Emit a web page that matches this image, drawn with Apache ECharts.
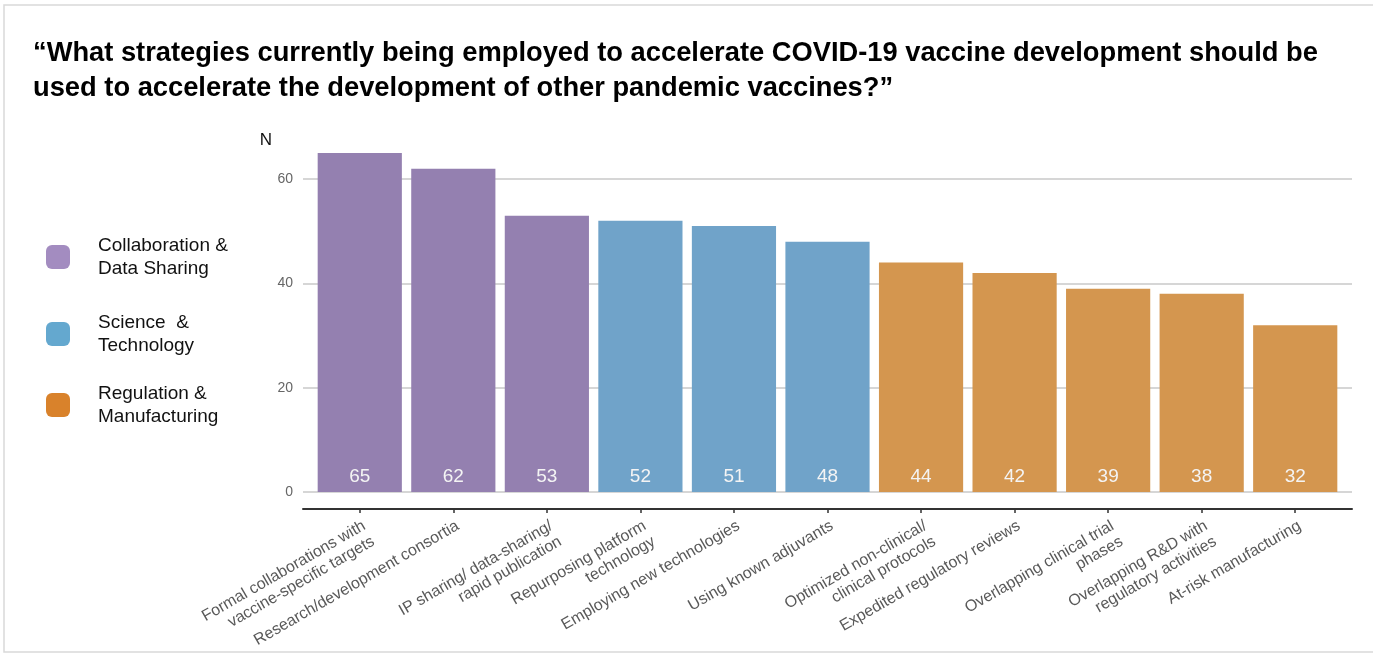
<!DOCTYPE html>
<html>
<head>
<meta charset="utf-8">
<script src="https://cdn.jsdelivr.net/npm/echarts@6/dist/echarts.min.js"></script>
<style>
  html, body { margin: 0; padding: 0; background: #fff; }
  #root { width: 1373px; height: 654px; }
</style>
</head>
<body>
<div id="root"></div>
<script>
// data
var strategies = [
  'Formal collaborations with\nvaccine-specific targets',
  'Research/development consortia',
  'IP sharing/ data-sharing/\nrapid publication',
  'Repurposing platform\ntechnology',
  'Employing new technologies',
  'Using known adjuvants',
  'Optimized non-clinical/\nclinical protocols',
  'Expedited regulatory reviews',
  'Overlapping clinical trial\nphases',
  'Overlapping R&D with\nregulatory activities',
  'At-risk manufacturing'
];
var groups = ['Collaboration &\nData Sharing', 'Science  &\nTechnology', 'Regulation &\nManufacturing'];
var collabValues = [65, 62, 53, '-', '-', '-', '-', '-', '-', '-', '-'];
var scienceValues = ['-', '-', '-', 52, 51, 48, '-', '-', '-', '-', '-'];
var regulationValues = ['-', '-', '-', '-', '-', '-', 44, 42, 39, 38, 32];
var yTicks = [0, 20, 40, 60];

var barColors = ['#9480b0', '#70a3c9', '#d4964f'];
var legendColors = ['#a38cc0', '#64a8cf', '#d9822b'];

var dom = document.getElementById('root');
var myChart = echarts.init(dom, null, { renderer: 'canvas' });

var font = '"Liberation Sans", Arial, sans-serif';

function barSeries(idx, values) {
  return {
    name: groups[idx],
    type: 'bar',
    stack: 'all',
    xAxisIndex: 1,
    yAxisIndex: 1,
    barCategoryGap: '10%',
    data: values,
    itemStyle: { color: barColors[idx] },
    label: {
      show: true,
      position: 'insideBottom',
      distance: 6,
      color: '#f4f4f4',
      fontSize: 19,
      fontFamily: font
    },
    emphasis: { disabled: true },
    animation: false
  };
}

function legendBox(idx, top) {
  return {
    orient: 'vertical',
    left: 41,
    top: top,
    itemWidth: 24,
    itemHeight: 24,
    selectedMode: false,
    icon: 'roundRect',
    data: [{ name: groups[idx], itemStyle: { color: legendColors[idx] } }],
    textStyle: {
      fontFamily: font,
      fontSize: 19,
      color: '#111',
      lineHeight: 23,
      padding: [0, 0, 0, 23]
    }
  };
}

var option = {
  backgroundColor: '#fff',
  animation: false,
  title: {
    text: '“What strategies currently being employed to accelerate COVID-19 vaccine development should be\nused to accelerate the development of other pandemic vaccines?”',
    left: 33,
    top: 36,
    padding: 0,
    textStyle: {
      fontFamily: font,
      fontSize: 27.3,
      fontWeight: 'bold',
      color: '#000',
      lineHeight: 35
    }
  },
  graphic: [{
    type: 'rect',
    shape: { x: 4, y: 5, width: 1380, height: 647 },
    style: { fill: 'none', stroke: '#d9d9d9', lineWidth: 1.5 },
    silent: true
  }],
  legend: [legendBox(0, 229), legendBox(1, 306), legendBox(2, 377)],
  grid: [
    // gridlines / axis line frame
    { left: 303, right: 21, top: 179, bottom: 162 },
    // bars
    { left: 313, right: 31, top: 127, bottom: 162 }
  ],
  xAxis: [
    {
      type: 'value',
      gridIndex: 0,
      min: 0,
      max: 1,
      offset: 17,
      axisLine: { show: true, onZero: false, lineStyle: { color: '#333', width: 2 } },
      axisTick: { show: false },
      axisLabel: { show: false },
      splitLine: { show: false }
    },
    {
      type: 'category',
      gridIndex: 1,
      data: strategies,
      offset: 17,
      axisLine: { show: false, onZero: false },
      axisTick: { show: true, alignWithLabel: true, length: 4, lineStyle: { color: '#333', width: 1.5 } },
      axisLabel: {
        interval: 0,
        rotate: 30,
        margin: 8,
        verticalAlign: 'top',
        align: 'right',
        color: '#595959',
        fontSize: 16,
        lineHeight: 18,
        fontFamily: font
      }
    }
  ],
  yAxis: [
    {
      type: 'value',
      gridIndex: 0,
      min: yTicks[0],
      max: yTicks[yTicks.length - 1],
      interval: 20,
      name: 'N',
      nameLocation: 'end',
      nameGap: 30,
      nameTextStyle: { fontFamily: font, fontSize: 17, color: '#111', align: 'right', padding: [0, 31, 0, 0] },
      axisLine: { show: false },
      axisTick: { show: false },
      axisLabel: { color: '#666', fontSize: 14, margin: 10, fontFamily: font },
      splitLine: { show: true, lineStyle: { color: '#c8c8c8', width: 1.5 } }
    },
    {
      type: 'value',
      gridIndex: 1,
      min: 0,
      max: 70,
      show: false,
      splitLine: { show: false }
    }
  ],
  series: [
    barSeries(0, collabValues),
    barSeries(1, scienceValues),
    barSeries(2, regulationValues)
  ]
};

myChart.setOption(option);
</script>
</body>
</html>
